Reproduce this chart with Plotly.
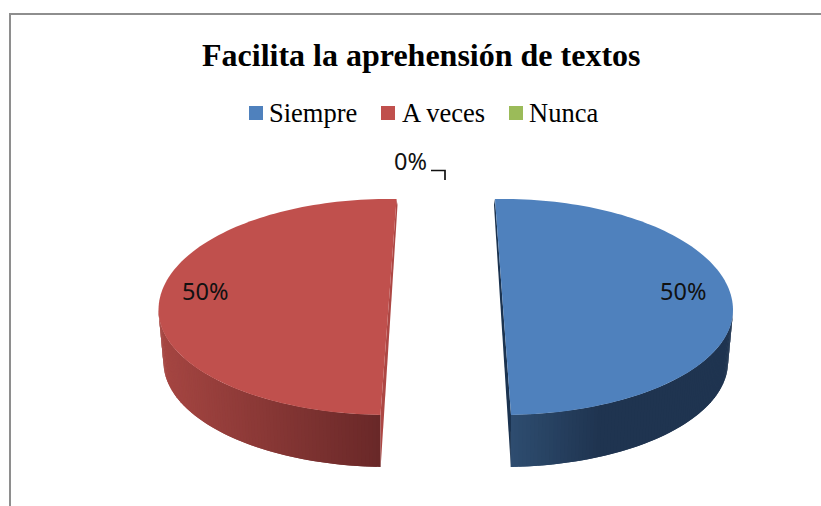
import math
import plotly.graph_objects as go

TITLE = "Facilita la aprehensión de textos"
categories = ["Siempre", "A veces", "Nunca"]
values = [50, 50, 0]
percent_labels = ["50%", "50%", "0%"]
top_colors = ["#4f81bd", "#c0504d", "#9bbb59"]

# Per-slice drawing style (pixel space of the 821x506 page)
centers = {"Siempre": (503, 310), "A veces": (388.5, 310)}
starts = {"Siempre": -2.0, "A veces": 182.0}
RX = 230
RY_BACK, RY_FRONT = 111, 105
RX_BOTTOM, DEPTH = 225, 52
# colour of the side wall as a function of horizontal position
side_ramps = {
    "Siempre": [(511, (0x2e, 0x4d, 0x70)), (600, (0x1f, 0x34, 0x50)), (733, (0x1f, 0x34, 0x50))],
    "A veces": [(158, (0xa6, 0x46, 0x42)), (380, (0x69, 0x28, 0x28))],
}
cut_colors = {"Siempre": "#1b3350", "A veces": "#ad4744"}
legend_marker_x = [256, 388, 516]
legend_text_x = [267, 399.5, 527]

total = sum(values)
sweeps = {c: 360 * v / total for c, v in zip(categories, values)}


def rim(cx, cy, rx, deg):
    t = math.radians(deg)
    c = math.cos(t)
    return cx + rx * math.sin(t), cy - (RY_BACK if c > 0 else RY_FRONT) * c


def poly(pts, color):
    xs = [p[0] for p in pts] + [pts[0][0]]
    ys = [p[1] for p in pts] + [pts[0][1]]
    return go.Scatter(x=xs, y=ys, mode="none", fill="toself", fillcolor=color,
                      hoverinfo="skip", showlegend=False)


def ramp(stops, x):
    if x <= stops[0][0]:
        c = stops[0][1]
    elif x >= stops[-1][0]:
        c = stops[-1][1]
    else:
        for (x0, c0), (x1, c1) in zip(stops, stops[1:]):
            if x0 <= x <= x1:
                f = (x - x0) / (x1 - x0)
                c = tuple(c0[i] + (c1[i] - c0[i]) * f for i in range(3))
                break
    return "rgb(%d,%d,%d)" % tuple(round(v) for v in c)


fig = go.Figure()

for cat, top in zip(categories, top_colors):
    sweep = sweeps[cat]
    if sweep == 0:
        continue
    cx, cy = centers[cat]
    a0 = starts[cat]
    a1 = a0 + sweep
    # outer side wall: only the part of the rim facing the viewer
    lo, hi = max(a0, 90), min(a1, 270)
    n = 90
    for i in range(n):
        d0 = lo + (hi - lo) * i / n
        d1 = lo + (hi - lo) * min(i + 2, n) / n  # overlap hides seams
        mid = rim(cx, cy, RX, lo + (hi - lo) * (i + 0.5) / n)[0]
        pts = [rim(cx, cy, RX, d0), rim(cx, cy, RX, d1),
               rim(cx, cy + DEPTH, RX_BOTTOM, d1), rim(cx, cy + DEPTH, RX_BOTTOM, d0)]
        fig.add_trace(poly(pts, ramp(side_ramps[cat], mid)))
    # visible cut face
    if cat == "Siempre":
        p_top, p_bot = rim(cx, cy, RX, a0), rim(cx, cy, RX, a1)
        b_bot = rim(cx, cy + DEPTH, RX_BOTTOM, a1)
    else:
        p_top, p_bot = rim(cx, cy, RX, a1), rim(cx, cy, RX, a0)
        b_bot = rim(cx, cy + DEPTH, RX_BOTTOM, a0)
    side = -1 if cat == "Siempre" else 1
    fig.add_trace(poly([p_top, p_bot, b_bot, (p_top[0] + side, p_top[1] + 6)], cut_colors[cat]))
    # top face
    arc = [rim(cx, cy, RX, a0 + sweep * k / 120) for k in range(121)]
    fig.add_trace(poly(arc, top))

# legend
fig.add_trace(go.Scatter(x=legend_marker_x, y=[113] * len(categories), mode="markers",
                         marker=dict(symbol="square", size=14, color=top_colors, line=dict(width=0)),
                         hoverinfo="skip", showlegend=False))
for cat, x in zip(categories, legend_text_x):
    fig.add_annotation(x=x, y=113, text=cat, showarrow=False, xanchor="left",
                       font=dict(family="Liberation Serif", size=26.5, color="#000000"))

# leader line of the empty slice
fig.add_trace(go.Scatter(x=[431, 445, 445], y=[170.5, 170.5, 180], mode="lines",
                         line=dict(color="#111111", width=1.7), hoverinfo="skip", showlegend=False))

label_pos = [(683, 291), (205, 291), (410, 161)]
for txt, (x, y) in zip(percent_labels, label_pos):
    fig.add_annotation(x=x, y=y, text=txt, showarrow=False,
                       font=dict(family="Noto Sans", size=23.5, color="#111111"))

fig.add_annotation(x=421.5, y=55, text="<b>" + TITLE + "</b>", showarrow=False,
                   font=dict(family="Liberation Serif", size=32, color="#000000"))

fig.update_layout(
    width=821, height=506, margin=dict(l=0, r=0, t=0, b=0),
    paper_bgcolor="#ffffff", plot_bgcolor="#ffffff", showlegend=False,
    xaxis=dict(range=[0, 821], visible=False, domain=[0, 1], fixedrange=True),
    yaxis=dict(range=[506, 0], visible=False, domain=[0, 1], fixedrange=True),
    shapes=[
        dict(type="line", x0=10, x1=10, y0=13, y1=506, line=dict(color="#8e8e8e", width=2)),
        dict(type="line", x0=10, x1=821, y0=14, y1=14, line=dict(color="#8e8e8e", width=2)),
    ],
)

fig.write_html("out.html", config={"displayModeBar": False},
               post_script="document.body.style.margin='0';document.body.style.overflow='hidden';")
